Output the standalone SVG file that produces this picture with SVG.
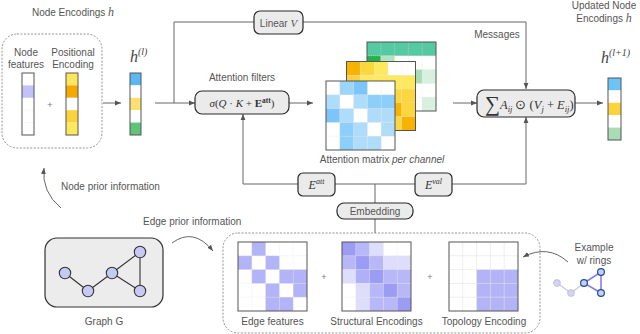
<svg xmlns="http://www.w3.org/2000/svg" width="640" height="334" viewBox="0 0 640 334">
<defs>
<style>
.lbl{font-family:"Liberation Sans",Arial,sans-serif;font-size:10px;fill:#555}
.mi{font-family:"Liberation Serif","Times New Roman",serif;font-style:italic}
.box{fill:#ebebeb;stroke:#2a2a2a;stroke-width:1.2}
.dash{fill:none;stroke:#888;stroke-width:0.9;stroke-dasharray:2 1.5}
.con{fill:none;stroke:#666;stroke-width:1}
.mat{fill:none;stroke:#555;stroke-width:1}
.grid{stroke:#ddd;stroke-width:0.5;stroke-dasharray:1 1}
.node{fill:#c8c8f4;stroke:#333;stroke-width:1.1}
.plus{font-family:"Liberation Sans",Arial,sans-serif;font-size:9px;fill:#777}
</style>
<marker id="ah" viewBox="0 0 10 10" refX="10" refY="5" markerWidth="6" markerHeight="6" markerUnits="userSpaceOnUse" orient="auto"><path d="M0,1 L10,5 L0,9 z" fill="#555"/></marker>
</defs>
<rect width="640" height="334" fill="#fff"/>

<g id="connectors">
<path class="con" d="M103,103 H121" marker-end="url(#ah)"/>
<path class="con" d="M155,103 H195" marker-end="url(#ah)"/>
<path class="con" d="M174,103 V22 H526 V89" marker-end="url(#ah)"/>
<path class="con" d="M289,103 H313" marker-end="url(#ah)"/>
<path class="con" d="M453,103 H477" marker-end="url(#ah)"/>
<path class="con" d="M575,103 H603" marker-end="url(#ah)"/>
<path class="con" d="M243,184 V114" marker-end="url(#ah)"/>
<path class="con" d="M243,184 H526"/>
<path class="con" d="M526,184 V117" marker-end="url(#ah)"/>
<path class="con" d="M375,184 V203"/>
<path class="con" d="M375,219 V233"/>
<path class="con" d="M61,208 Q41.5,192 44,168" marker-end="url(#ah)"/>
<path class="con" d="M172,243 Q193.5,227 213,251" marker-end="url(#ah)"/>
<path class="con" d="M568,262 Q548,244 523,257" marker-end="url(#ah)"/>
</g>

<g id="node-encodings">
<text class="lbl" x="73" y="15.5" text-anchor="middle">Node Encodings <tspan class="mi" font-size="12">h</tspan></text>
<rect class="dash" x="2" y="34" width="100" height="114" rx="15"/>
<text class="lbl" x="26" y="55.5" text-anchor="middle">Node</text>
<text class="lbl" x="26" y="67.5" text-anchor="middle">features</text>
<text class="lbl" x="73" y="55.5" text-anchor="middle">Positional</text>
<text class="lbl" x="73" y="67.5" text-anchor="middle">Encoding</text>
<g id="node-features-vec">
<rect x="22" y="73" width="12" height="62" fill="#fff"/>
<rect x="22" y="85.4" width="12" height="12.4" fill="#c2c2f8"/>
<path class="grid" d="M22,110.2 H34 M22,122.6 H34"/>
<rect class="mat" x="22" y="73" width="12" height="62" stroke-width="0.9"/>
</g>
<text class="plus" x="50" y="108" text-anchor="middle">+</text>
<g id="positional-vec">
<rect x="66" y="73" width="12" height="12.4" fill="#fde65c"/>
<rect x="66" y="85.4" width="12" height="12.4" fill="#f6a700"/>
<rect x="66" y="97.8" width="12" height="12.4" fill="#fff"/>
<rect x="66" y="110.2" width="12" height="12.4" fill="#fcd23c"/>
<rect x="66" y="122.6" width="12" height="12.4" fill="#fde95e"/>
<rect class="mat" x="66" y="73" width="12" height="62" stroke-width="0.9"/>
</g>
</g>

<g id="h-l">
<text x="130" y="62" class="mi" font-size="16" fill="#444">h<tspan font-size="10" dy="-7">(l)</tspan></text>
<rect x="130" y="73" width="11" height="12.4" fill="#5ab7f2"/>
<rect x="130" y="85.4" width="11" height="12.4" fill="#fff"/>
<rect x="130" y="97.8" width="11" height="12.4" fill="#fde070"/>
<rect x="130" y="110.2" width="11" height="12.4" fill="#fff"/>
<rect x="130" y="122.6" width="11" height="12.4" fill="#5dc47a"/>
<rect class="mat" x="130" y="73" width="11" height="62" stroke-width="0.9"/>
</g>

<g id="linear-v">
<rect class="box" x="254" y="11" width="49" height="23" rx="6"/>
<text class="lbl" x="278.5" y="26.5" text-anchor="middle">Linear <tspan class="mi" font-size="11">V</tspan></text>
</g>

<g id="attention-filters">
<text class="lbl" x="242" y="80.5" text-anchor="middle">Attention filters</text>
<rect class="box" x="195" y="91" width="94" height="23" rx="7"/>
<text x="242" y="106.5" text-anchor="middle" font-family="Liberation Serif,Times New Roman,serif" font-size="11" fill="#333"><tspan font-style="italic">σ</tspan>(<tspan font-style="italic">Q</tspan> · <tspan font-style="italic">K</tspan> + <tspan font-weight="bold">E</tspan><tspan font-size="7.5" font-weight="bold" dy="-4">att</tspan><tspan dy="4">)</tspan></text>
</g>

<g id="attention-matrices">
<g id="mat-green">
<rect x="367" y="42" width="69" height="69" fill="#fff"/>
<rect x="367" y="42" width="69" height="13.8" fill="#55c9a2"/>
<rect x="367" y="55.8" width="13.8" height="13.8" fill="#22b24c"/>
<rect x="380.8" y="55.8" width="13.8" height="13.8" fill="#b2e3bf"/>
<rect x="408.4" y="69.6" width="13.8" height="13.8" fill="#a8dcb4"/>
<rect x="422.2" y="69.6" width="13.8" height="13.8" fill="#d8f0df"/>
<rect x="422.2" y="97.2" width="13.8" height="13.8" fill="#d8f0df"/>
<path class="grid" d="M380.8,42 V111 M394.6,42 V111 M408.4,42 V111 M422.2,42 V111 M367,55.8 H436 M367,69.6 H436 M367,83.4 H436 M367,97.2 H436"/>
<rect class="mat" x="367" y="42" width="69" height="69"/>
</g>
<g id="mat-yellow">
<rect x="346.5" y="61.5" width="69" height="69" fill="#fff"/>
<rect x="346.5" y="61.5" width="13.8" height="13.8" fill="#f8b200"/>
<rect x="360.3" y="61.5" width="13.8" height="13.8" fill="#fcd63e"/>
<rect x="374.1" y="61.5" width="13.8" height="13.8" fill="#fde95e"/>
<rect x="346.5" y="75.3" width="13.8" height="13.8" fill="#fcd040"/>
<rect x="360.3" y="75.3" width="13.8" height="13.8" fill="#fde95e"/>
<rect x="374.1" y="75.3" width="13.8" height="13.8" fill="#fde95e"/>
<rect x="387.9" y="75.3" width="13.8" height="13.8" fill="#fde95e"/>
<rect x="401.7" y="75.3" width="13.8" height="13.8" fill="#fde95e"/>
<rect x="387.9" y="89.1" width="13.8" height="13.8" fill="#fcd63e"/>
<rect x="401.7" y="89.1" width="13.8" height="13.8" fill="#fcd63e"/>
<rect x="387.9" y="102.9" width="13.8" height="13.8" fill="#f8b200"/>
<rect x="401.7" y="102.9" width="13.8" height="13.8" fill="#fcd63e"/>
<rect x="387.9" y="116.7" width="13.8" height="13.8" fill="#fcd63e"/>
<rect x="401.7" y="116.7" width="13.8" height="13.8" fill="#f8b200"/>
<path class="grid" d="M360.3,61.5 V130.5 M374.1,61.5 V130.5 M387.9,61.5 V130.5 M401.7,61.5 V130.5 M346.5,75.3 H415.5 M346.5,89.1 H415.5 M346.5,102.9 H415.5 M346.5,116.7 H415.5"/>
<rect class="mat" x="346.5" y="61.5" width="69" height="69"/>
</g>
<g id="mat-blue">
<rect x="326" y="81" width="69" height="69" fill="#fff"/>
<rect x="339.8" y="81" width="13.8" height="13.8" fill="#9cd4fa"/>
<rect x="353.6" y="81" width="13.8" height="13.8" fill="#7cc5f9"/>
<rect x="326" y="94.8" width="13.8" height="13.8" fill="#b0dcfb"/>
<rect x="353.6" y="94.8" width="13.8" height="13.8" fill="#b0dcfb"/>
<rect x="367.4" y="94.8" width="13.8" height="13.8" fill="#8ccffa"/>
<rect x="381.2" y="94.8" width="13.8" height="13.8" fill="#8ccffa"/>
<rect x="326" y="108.6" width="13.8" height="13.8" fill="#7cc5f9"/>
<rect x="339.8" y="108.6" width="13.8" height="13.8" fill="#b0dcfb"/>
<rect x="367.4" y="108.6" width="13.8" height="13.8" fill="#b0dcfb"/>
<rect x="381.2" y="108.6" width="13.8" height="13.8" fill="#b0dcfb"/>
<rect x="339.8" y="122.4" width="13.8" height="13.8" fill="#8ccffa"/>
<rect x="353.6" y="122.4" width="13.8" height="13.8" fill="#b0dcfb"/>
<rect x="381.2" y="122.4" width="13.8" height="13.8" fill="#b0dcfb"/>
<rect x="339.8" y="136.2" width="13.8" height="13.8" fill="#8ccffa"/>
<rect x="353.6" y="136.2" width="13.8" height="13.8" fill="#b0dcfb"/>
<rect x="367.4" y="136.2" width="13.8" height="13.8" fill="#b0dcfb"/>
<path class="grid" d="M339.8,81 V150 M353.6,81 V150 M367.4,81 V150 M381.2,81 V150 M326,94.8 H395 M326,108.6 H395 M326,122.4 H395 M326,136.2 H395"/>
<rect class="mat" x="326" y="81" width="69" height="69"/>
</g>
<text class="lbl" x="382" y="162.5" text-anchor="middle">Attention matrix <tspan font-style="italic">per channel</tspan></text>
</g>

<g id="messages">
<text class="lbl" x="497" y="37.5" text-anchor="middle">Messages</text>
</g>

<g id="aggregation">
<rect class="box" x="477" y="90" width="98" height="27" rx="7"/>
<text x="485" y="109" font-family="Liberation Serif,Times New Roman,serif" font-size="12.5" fill="#333"><tspan font-size="21" dy="2">∑</tspan><tspan font-style="italic" dy="-2">A</tspan><tspan font-style="italic" font-size="8.5" dy="2.5">ij</tspan><tspan dy="-2.5"> ⊙ (</tspan><tspan font-style="italic">V</tspan><tspan font-style="italic" font-size="8.5" dy="2.5">j</tspan><tspan dy="-2.5"> + </tspan><tspan font-style="italic">E</tspan><tspan font-style="italic" font-size="8.5" dy="2.5">ij</tspan><tspan dy="-2.5">)</tspan></text>
</g>

<g id="h-l1">
<text class="lbl" x="604" y="8.5" text-anchor="middle">Updated Node</text>
<text class="lbl" x="604" y="21.5" text-anchor="middle">Encodings <tspan class="mi" font-size="12">h</tspan></text>
<text x="601" y="63" class="mi" font-size="16" fill="#444">h<tspan font-size="10" dy="-7">(l+1)</tspan></text>
<rect x="608" y="78" width="13" height="12.4" fill="#6cc3f7"/>
<rect x="608" y="90.4" width="13" height="12.4" fill="#fff"/>
<rect x="608" y="102.8" width="13" height="12.4" fill="#fcd33a"/>
<rect x="608" y="115.2" width="13" height="12.4" fill="#fff"/>
<rect x="608" y="127.6" width="13" height="12.4" fill="#a9dcb3"/>
<rect class="mat" x="608" y="78" width="13" height="62" stroke-width="0.9"/>
</g>

<g id="e-att">
<rect class="box" x="298" y="173" width="37" height="23" rx="5"/>
<text x="316.5" y="189" text-anchor="middle" class="mi" font-size="12" fill="#333">E<tspan font-size="8" dy="-5">att</tspan></text>
</g>
<g id="e-val">
<rect class="box" x="415" y="173" width="37" height="23" rx="5"/>
<text x="433.5" y="189" text-anchor="middle" class="mi" font-size="12" fill="#333">E<tspan font-size="8" dy="-5">val</tspan></text>
</g>

<g id="embedding">
<rect class="box" x="337" y="203" width="76" height="16" rx="7"/>
<text class="lbl" x="375" y="214.5" text-anchor="middle">Embedding</text>
</g>

<g id="node-prior">
<text class="lbl" x="61" y="189.5">Node prior information</text>
</g>
<g id="edge-prior">
<text class="lbl" x="143" y="224.5">Edge prior information</text>
</g>

<g id="graph-g">
<rect x="45" y="238" width="118" height="69" rx="12" fill="#ececec" stroke="#333" stroke-width="1.2"/>
<path d="M65,273 L88,291 L112,273 L140,252 L140,291 L112,273" fill="none" stroke="#333" stroke-width="1.1"/>
<circle class="node" cx="65" cy="273" r="5.7"/>
<circle class="node" cx="88" cy="291" r="5.7"/>
<circle class="node" cx="112" cy="273" r="5.7"/>
<circle class="node" cx="140" cy="252" r="5.7"/>
<circle class="node" cx="140" cy="291" r="5.7"/>
<text class="lbl" x="104" y="324.5" text-anchor="middle">Graph G</text>
</g>

<g id="edge-encodings">
<rect class="dash" x="223" y="233" width="317" height="100" rx="15"/>
<g id="edge-features">
<rect x="238" y="242" width="69" height="69" fill="#fff"/>
<g fill="#b3b3f7">
<rect x="251.8" y="242" width="13.8" height="13.8"/>
<rect x="238" y="255.8" width="13.8" height="13.8"/>
<rect x="265.6" y="255.8" width="13.8" height="13.8"/>
<rect x="251.8" y="269.6" width="13.8" height="13.8"/>
<rect x="279.4" y="269.6" width="13.8" height="13.8"/>
<rect x="293.2" y="269.6" width="13.8" height="13.8"/>
<rect x="265.6" y="283.4" width="13.8" height="13.8"/>
<rect x="293.2" y="283.4" width="13.8" height="13.8"/>
<rect x="265.6" y="297.2" width="13.8" height="13.8"/>
<rect x="279.4" y="297.2" width="13.8" height="13.8"/>
</g>
<path class="grid" d="M251.8,242 V311 M265.6,242 V311 M279.4,242 V311 M293.2,242 V311 M238,255.8 H307 M238,269.6 H307 M238,283.4 H307 M238,297.2 H307"/>
<rect class="mat" x="238" y="242" width="69" height="69"/>
<text class="lbl" x="272.5" y="324.5" text-anchor="middle">Edge features</text>
</g>
<text class="plus" x="324" y="280" text-anchor="middle">+</text>
<g id="structural-encodings">
<rect x="342" y="242" width="69" height="69" fill="#fff"/>
<rect x="342" y="242" width="13.8" height="13.8" fill="#9c9cf5"/>
<rect x="355.8" y="242" width="13.8" height="13.8" fill="#b8b8f8"/>
<rect x="369.6" y="242" width="13.8" height="13.8" fill="#dedefc"/>
<rect x="342" y="255.8" width="13.8" height="13.8" fill="#b8b8f8"/>
<rect x="355.8" y="255.8" width="13.8" height="13.8" fill="#9c9cf5"/>
<rect x="369.6" y="255.8" width="13.8" height="13.8" fill="#b8b8f8"/>
<rect x="383.4" y="255.8" width="13.8" height="13.8" fill="#dedefc"/>
<rect x="397.2" y="255.8" width="13.8" height="13.8" fill="#dedefc"/>
<rect x="342" y="269.6" width="13.8" height="13.8" fill="#dedefc"/>
<rect x="355.8" y="269.6" width="13.8" height="13.8" fill="#b0b0f8"/>
<rect x="369.6" y="269.6" width="13.8" height="13.8" fill="#9c9cf5"/>
<rect x="383.4" y="269.6" width="13.8" height="13.8" fill="#b8b8f8"/>
<rect x="397.2" y="269.6" width="13.8" height="13.8" fill="#b8b8f8"/>
<rect x="355.8" y="283.4" width="13.8" height="13.8" fill="#dedefc"/>
<rect x="369.6" y="283.4" width="13.8" height="13.8" fill="#b8b8f8"/>
<rect x="383.4" y="283.4" width="13.8" height="13.8" fill="#9c9cf5"/>
<rect x="397.2" y="283.4" width="13.8" height="13.8" fill="#b8b8f8"/>
<rect x="355.8" y="297.2" width="13.8" height="13.8" fill="#dedefc"/>
<rect x="369.6" y="297.2" width="13.8" height="13.8" fill="#b8b8f8"/>
<rect x="383.4" y="297.2" width="13.8" height="13.8" fill="#b8b8f8"/>
<rect x="397.2" y="297.2" width="13.8" height="13.8" fill="#9c9cf5"/>
<path class="grid" d="M355.8,242 V311 M369.6,242 V311 M383.4,242 V311 M397.2,242 V311 M342,255.8 H411 M342,269.6 H411 M342,283.4 H411 M342,297.2 H411"/>
<rect class="mat" x="342" y="242" width="69" height="69"/>
<text class="lbl" x="376.5" y="324.5" text-anchor="middle">Structural Encodings</text>
</g>
<text class="plus" x="430" y="280" text-anchor="middle">+</text>
<g id="topology-encoding">
<rect x="449" y="242" width="69" height="69" fill="#fff"/>
<rect x="476.6" y="269.6" width="41.4" height="41.4" fill="#b3b3f7"/>
<path d="M462.8,242 V311 M476.6,242 V311 M490.4,242 V311 M504.2,242 V311 M449,255.8 H518 M449,269.6 H518 M449,283.4 H518 M449,297.2 H518" stroke="#e2e2e2" stroke-width="0.6"/>
<rect class="mat" x="449" y="242" width="69" height="69"/>
<text class="lbl" x="484" y="324.5" text-anchor="middle">Topology Encoding</text>
</g>
</g>

<g id="example-rings">
<text class="lbl" x="594" y="250.5" text-anchor="middle">Example</text>
<text class="lbl" x="594" y="263.5" text-anchor="middle">w/ rings</text>
<path d="M557,283 L571,293 L584,283" fill="none" stroke="#c8c8d8" stroke-width="1.2"/>
<path d="M584,283 L601,272 L601,293 Z" fill="none" stroke="#8080f0" stroke-width="1.6"/>
<circle cx="557" cy="283" r="3.4" fill="#d4d4f0" stroke="#b8b8dc" stroke-width="0.8"/>
<circle cx="571" cy="293" r="3.4" fill="#d4d4f0" stroke="#b8b8dc" stroke-width="0.8"/>
<circle cx="584" cy="283" r="3.4" fill="#c8d0f8" stroke="#1d4f8f" stroke-width="1.2"/>
<circle cx="601" cy="272" r="3.4" fill="#c8d0f8" stroke="#1d4f8f" stroke-width="1.2"/>
<circle cx="601" cy="293" r="3.4" fill="#c8d0f8" stroke="#1d4f8f" stroke-width="1.2"/>
</g>
</svg>
